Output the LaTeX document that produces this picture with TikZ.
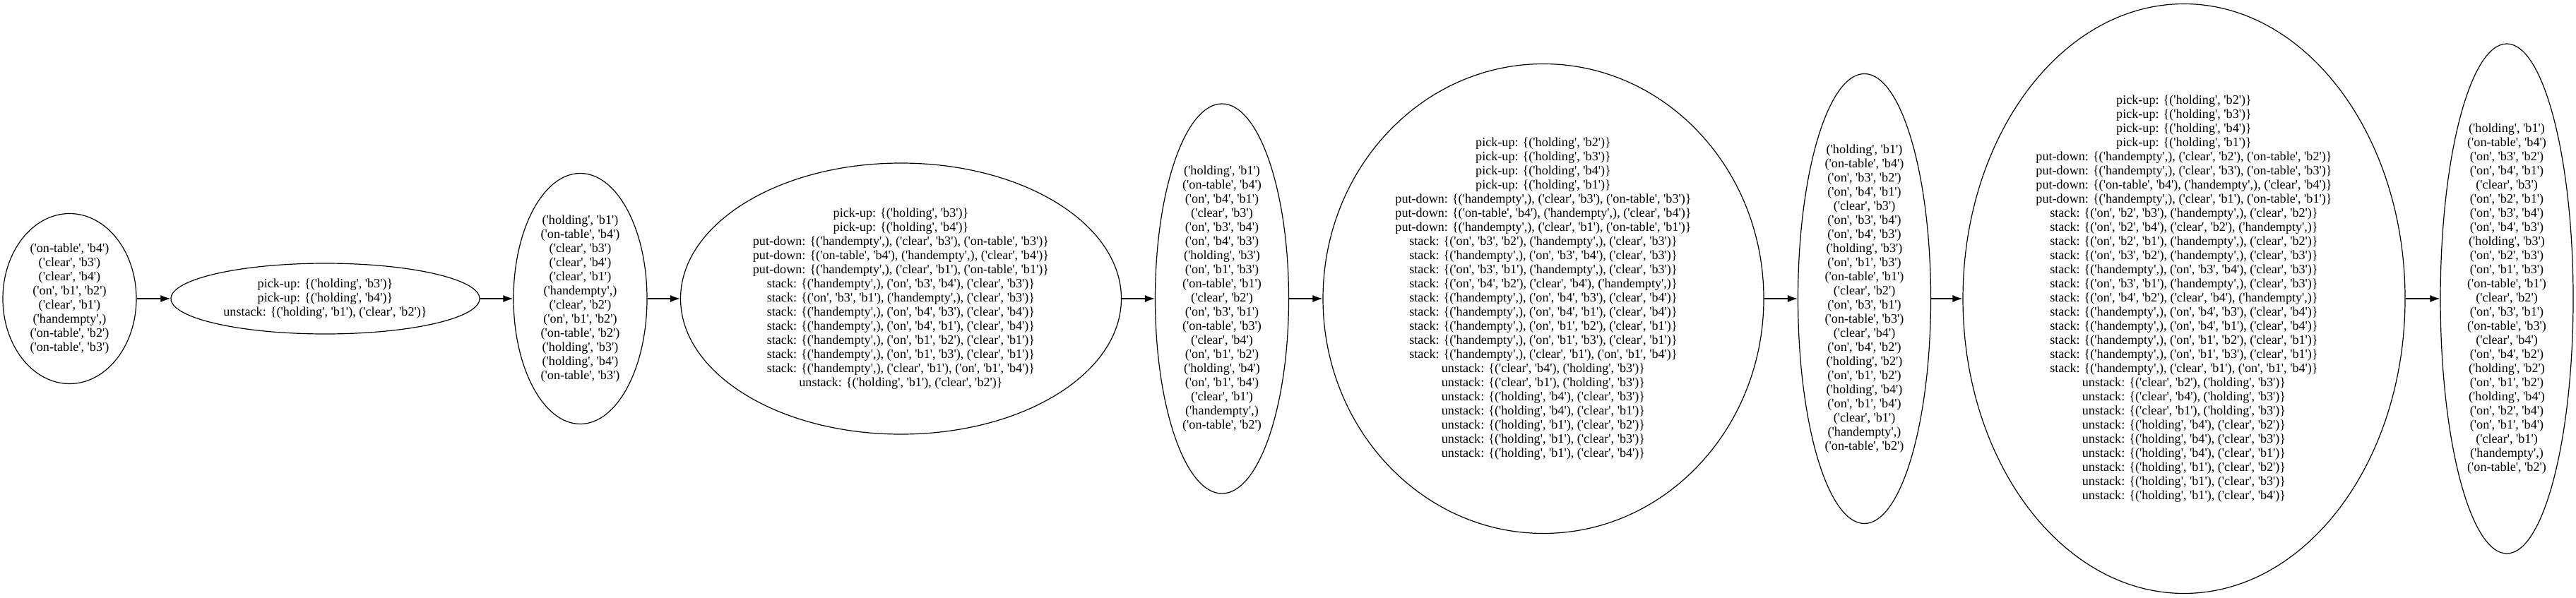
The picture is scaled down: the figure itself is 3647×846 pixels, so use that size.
\documentclass[tikz,border=0pt]{standalone}
\usepackage{fontspec}
\setmainfont{Liberation Serif}
\usetikzlibrary{shapes.geometric,arrows.meta}
\newcommand\Q[1]{\textquotesingle#1\textquotesingle}
\newcommand\tHd{(\Q{handempty},)}
\newcommand\tCl[1]{(\Q{clear}, \Q{#1})}
\newcommand\tOt[1]{(\Q{on-table}, \Q{#1})}
\newcommand\tOn[2]{(\Q{on}, \Q{#1}, \Q{#2})}
\newcommand\tHo[1]{(\Q{holding}, \Q{#1})}
\tikzset{
  state/.style={draw=black, line width=0.9pt, ellipse, inner sep=0pt, align=center,
    font=\fontsize{13.6pt}{15pt}\selectfont},
  link/.style={draw=black, line width=0.9pt, -{Latex[length=10.5pt,width=7.5pt]}}
}
\begin{document}
\begin{tikzpicture}[x=0.75pt,y=-0.75pt]
\useasboundingbox (0,0) rectangle (3647,846);
\node[state, minimum width=141.75pt, minimum height=180.75pt] (n1) at (98.5,423) {%
\tOt{b4}\\ \tCl{b3}\\ \tCl{b4}\\ \tOn{b1}{b2}\\ \tCl{b1}\\ \tHd\\ \tOt{b2}\\ \tOt{b3}};
\node[state, minimum width=327.75pt, minimum height=75pt] (n2) at (460.5,423) {%
pick-up: \{\tHo{b3}\}\\ pick-up: \{\tHo{b4}\}\\ unstack: \{\tHo{b1}, \tCl{b2}\}};
\node[state, minimum width=141.75pt, minimum height=266.25pt] (n3) at (821.5,423) {%
\tHo{b1}\\ \tOt{b4}\\ \tCl{b3}\\ \tCl{b4}\\ \tCl{b1}\\ \tHd\\ \tCl{b2}\\ \tOn{b1}{b2}\\ \tOt{b2}\\ \tHo{b3}\\ \tHo{b4}\\ \tOt{b3}};
\node[state, minimum width=468pt, minimum height=288pt] (n4) at (1275.5,423) {%
pick-up: \{\tHo{b3}\}\\
pick-up: \{\tHo{b4}\}\\
put-down: \{\tHd, \tCl{b3}, \tOt{b3}\}\\
put-down: \{\tOt{b4}, \tHd, \tCl{b4}\}\\
put-down: \{\tHd, \tCl{b1}, \tOt{b1}\}\\
stack: \{\tHd, \tOn{b3}{b4}, \tCl{b3}\}\\
stack: \{\tOn{b3}{b1}, \tHd, \tCl{b3}\}\\
stack: \{\tHd, \tOn{b4}{b3}, \tCl{b4}\}\\
stack: \{\tHd, \tOn{b4}{b1}, \tCl{b4}\}\\
stack: \{\tHd, \tOn{b1}{b2}, \tCl{b1}\}\\
stack: \{\tHd, \tOn{b1}{b3}, \tCl{b1}\}\\
stack: \{\tHd, \tCl{b1}, \tOn{b1}{b4}\}\\
unstack: \{\tHo{b1}, \tCl{b2}\}};
\node[state, minimum width=141.75pt, minimum height=414pt] (n5) at (1730,423) {%
\tHo{b1}\\ \tOt{b4}\\ \tOn{b4}{b1}\\ \tCl{b3}\\ \tOn{b3}{b4}\\ \tOn{b4}{b3}\\ \tHo{b3}\\ \tOn{b1}{b3}\\ \tOt{b1}\\ \tCl{b2}\\ \tOn{b3}{b1}\\ \tOt{b3}\\ \tCl{b4}\\ \tOn{b1}{b2}\\ \tHo{b4}\\ \tOn{b1}{b4}\\ \tCl{b1}\\ \tHd\\ \tOt{b2}};
\node[state, minimum width=468pt, minimum height=498.75pt] (n6) at (2185,423) {%
pick-up: \{\tHo{b2}\}\\
pick-up: \{\tHo{b3}\}\\
pick-up: \{\tHo{b4}\}\\
pick-up: \{\tHo{b1}\}\\
put-down: \{\tHd, \tCl{b3}, \tOt{b3}\}\\
put-down: \{\tOt{b4}, \tHd, \tCl{b4}\}\\
put-down: \{\tHd, \tCl{b1}, \tOt{b1}\}\\
stack: \{\tOn{b3}{b2}, \tHd, \tCl{b3}\}\\
stack: \{\tHd, \tOn{b3}{b4}, \tCl{b3}\}\\
stack: \{\tOn{b3}{b1}, \tHd, \tCl{b3}\}\\
stack: \{\tOn{b4}{b2}, \tCl{b4}, \tHd\}\\
stack: \{\tHd, \tOn{b4}{b3}, \tCl{b4}\}\\
stack: \{\tHd, \tOn{b4}{b1}, \tCl{b4}\}\\
stack: \{\tHd, \tOn{b1}{b2}, \tCl{b1}\}\\
stack: \{\tHd, \tOn{b1}{b3}, \tCl{b1}\}\\
stack: \{\tHd, \tCl{b1}, \tOn{b1}{b4}\}\\
unstack: \{\tCl{b4}, \tHo{b3}\}\\
unstack: \{\tCl{b1}, \tHo{b3}\}\\
unstack: \{\tHo{b4}, \tCl{b3}\}\\
unstack: \{\tHo{b4}, \tCl{b1}\}\\
unstack: \{\tHo{b1}, \tCl{b2}\}\\
unstack: \{\tHo{b1}, \tCl{b3}\}\\
unstack: \{\tHo{b1}, \tCl{b4}\}};
\node[state, minimum width=141pt, minimum height=477.75pt] (n7) at (2639.5,423) {%
\tHo{b1}\\ \tOt{b4}\\ \tOn{b3}{b2}\\ \tOn{b4}{b1}\\ \tCl{b3}\\ \tOn{b3}{b4}\\ \tOn{b4}{b3}\\ \tHo{b3}\\ \tOn{b1}{b3}\\ \tOt{b1}\\ \tCl{b2}\\ \tOn{b3}{b1}\\ \tOt{b3}\\ \tCl{b4}\\ \tOn{b4}{b2}\\ \tHo{b2}\\ \tOn{b1}{b2}\\ \tHo{b4}\\ \tOn{b1}{b4}\\ \tCl{b1}\\ \tHd\\ \tOt{b2}};
\node[state, minimum width=469.5pt, minimum height=626.25pt] (n8) at (3092,423) {%
pick-up: \{\tHo{b2}\}\\
pick-up: \{\tHo{b3}\}\\
pick-up: \{\tHo{b4}\}\\
pick-up: \{\tHo{b1}\}\\
put-down: \{\tHd, \tCl{b2}, \tOt{b2}\}\\
put-down: \{\tHd, \tCl{b3}, \tOt{b3}\}\\
put-down: \{\tOt{b4}, \tHd, \tCl{b4}\}\\
put-down: \{\tHd, \tCl{b1}, \tOt{b1}\}\\
stack: \{\tOn{b2}{b3}, \tHd, \tCl{b2}\}\\
stack: \{\tOn{b2}{b4}, \tCl{b2}, \tHd\}\\
stack: \{\tOn{b2}{b1}, \tHd, \tCl{b2}\}\\
stack: \{\tOn{b3}{b2}, \tHd, \tCl{b3}\}\\
stack: \{\tHd, \tOn{b3}{b4}, \tCl{b3}\}\\
stack: \{\tOn{b3}{b1}, \tHd, \tCl{b3}\}\\
stack: \{\tOn{b4}{b2}, \tCl{b4}, \tHd\}\\
stack: \{\tHd, \tOn{b4}{b3}, \tCl{b4}\}\\
stack: \{\tHd, \tOn{b4}{b1}, \tCl{b4}\}\\
stack: \{\tHd, \tOn{b1}{b2}, \tCl{b1}\}\\
stack: \{\tHd, \tOn{b1}{b3}, \tCl{b1}\}\\
stack: \{\tHd, \tCl{b1}, \tOn{b1}{b4}\}\\
unstack: \{\tCl{b2}, \tHo{b3}\}\\
unstack: \{\tCl{b4}, \tHo{b3}\}\\
unstack: \{\tCl{b1}, \tHo{b3}\}\\
unstack: \{\tHo{b4}, \tCl{b2}\}\\
unstack: \{\tHo{b4}, \tCl{b3}\}\\
unstack: \{\tHo{b4}, \tCl{b1}\}\\
unstack: \{\tHo{b1}, \tCl{b2}\}\\
unstack: \{\tHo{b1}, \tCl{b3}\}\\
unstack: \{\tHo{b1}, \tCl{b4}\}};
\node[state, minimum width=141pt, minimum height=541.5pt] (n9) at (3549,423) {%
\tHo{b1}\\ \tOt{b4}\\ \tOn{b3}{b2}\\ \tOn{b4}{b1}\\ \tCl{b3}\\ \tOn{b2}{b1}\\ \tOn{b3}{b4}\\ \tOn{b4}{b3}\\ \tHo{b3}\\ \tOn{b2}{b3}\\ \tOn{b1}{b3}\\ \tOt{b1}\\ \tCl{b2}\\ \tOn{b3}{b1}\\ \tOt{b3}\\ \tCl{b4}\\ \tOn{b4}{b2}\\ \tHo{b2}\\ \tOn{b1}{b2}\\ \tHo{b4}\\ \tOn{b2}{b4}\\ \tOn{b1}{b4}\\ \tCl{b1}\\ \tHd\\ \tOt{b2}};
\foreach \a/\b in {n1/n2,n2/n3,n3/n4,n4/n5,n5/n6,n6/n7,n7/n8,n8/n9}
  \draw[link] (\a.east) -- (\b.west);
\end{tikzpicture}
\end{document}
